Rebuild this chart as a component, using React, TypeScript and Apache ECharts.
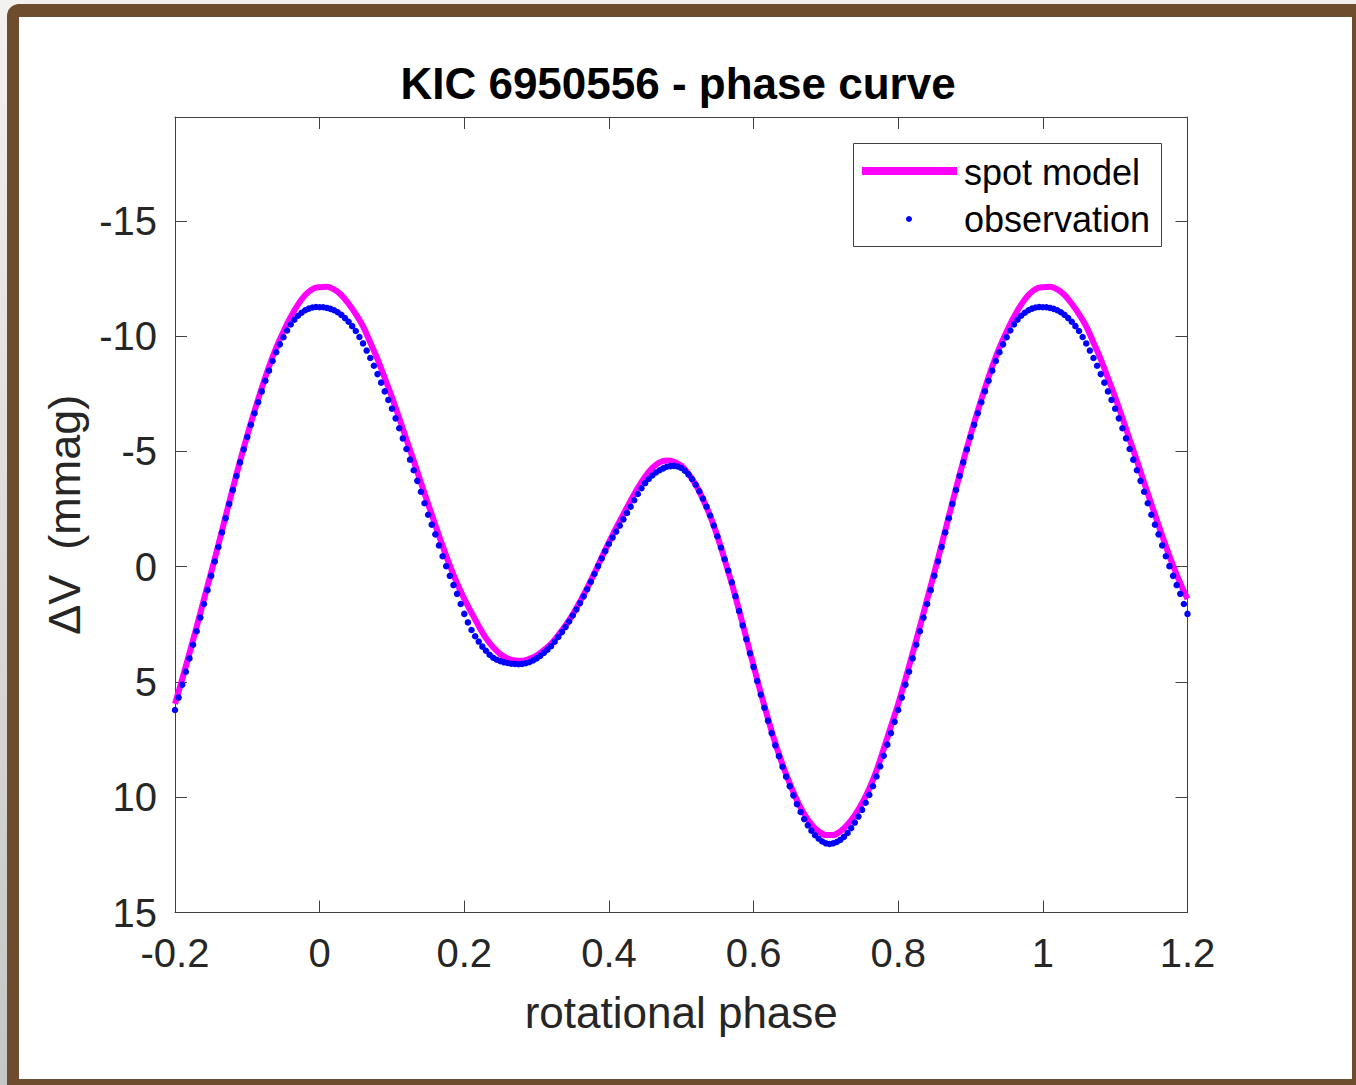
import React, { useEffect, useRef } from 'react';
import * as echarts from 'echarts';

const TITLE = 'KIC 6950556 - phase curve';
const X_NAME = 'rotational phase';
const Y_NAME = 'ΔV  (mmag)';
const X_TICKS = [-0.2, 0, 0.2, 0.4, 0.6, 0.8, 1, 1.2];
const X_TICK_LABELS = ['-0.2', '0', '0.2', '0.4', '0.6', '0.8', '1', '1.2'];
const Y_TICKS = [-15, -10, -5, 0, 5, 10, 15];
const Y_TICK_LABELS = ['-15', '-10', '-5', '0', '5', '10', '15'];
const X_RANGE = [-0.2, 1.2];
const Y_RANGE = [-19.5, 15];
const LEGEND_NAMES = ['spot model', 'observation'];

// spot model over one rotation: phase 0.00 .. 0.99, step 0.01 (mmag)
const MODEL_STEP = 0.01;
const MODEL = [
  -12.12, -12.14, -12.02, -11.78, -11.40, -10.95, -10.42, -9.72, -9.00, -8.18,
  -7.35, -6.45, -5.52, -4.60, -3.65, -2.72, -1.80, -0.90, -0.05, 0.72,
  1.40, 2.00, 2.58, 3.10, 3.50, 3.80, 3.98, 4.07, 4.08, 4.00,
  3.86, 3.62, 3.35, 2.97, 2.55, 2.07, 1.52, 0.92, 0.28, -0.40,
  -1.05, -1.68, -2.28, -2.86, -3.42, -3.90, -4.28, -4.52, -4.60, -4.55,
  -4.38, -4.02, -3.55, -2.92, -2.20, -1.32, -0.30, 0.75, 1.90, 3.10,
  4.30, 5.48, 6.60, 7.65, 8.58, 9.40, 10.13, 10.73, 11.18, 11.48,
  11.64, 11.64, 11.48, 11.18, 10.78, 10.26, 9.62, 8.84, 7.90, 6.92,
  5.95, 4.88, 3.75, 2.60, 1.42, 0.25, -0.95, -2.18, -3.40, -4.58,
  -5.70, -6.75, -7.75, -8.68, -9.50, -10.20, -10.83, -11.36, -11.78, -12.04,
];

// observed phase-folded light curve: phase 0.000 .. 0.995, step 0.005 (mmag)
const OBS_STEP = 0.005;
const OBS = [
  -11.25, -11.25, -11.22, -11.18, -11.12, -11.03, -10.92, -10.78, -10.62, -10.43,
  -10.22, -9.96, -9.68, -9.37, -9.05, -8.71, -8.35, -7.98, -7.60, -7.23,
  -6.85, -6.43, -6.00, -5.56, -5.10, -4.64, -4.18, -3.72, -3.25, -2.75,
  -2.25, -1.82, -1.40, -0.92, -0.45, -0.02, 0.40, 0.80, 1.18, 1.62,
  2.05, 2.42, 2.75, 3.02, 3.25, 3.47, 3.65, 3.82, 3.95, 4.04,
  4.10, 4.15, 4.18, 4.21, 4.22, 4.23, 4.22, 4.19, 4.14, 4.07,
  3.98, 3.87, 3.74, 3.60, 3.45, 3.26, 3.05, 2.84, 2.62, 2.38,
  2.12, 1.86, 1.58, 1.29, 0.98, 0.66, 0.32, -0.02, -0.35, -0.67,
  -0.98, -1.26, -1.52, -1.78, -2.05, -2.33, -2.60, -2.88, -3.15, -3.40,
  -3.62, -3.80, -3.95, -4.08, -4.18, -4.26, -4.33, -4.36, -4.37, -4.34,
  -4.28, -4.16, -4.00, -3.80, -3.55, -3.27, -2.95, -2.60, -2.22, -1.78,
  -1.32, -0.83, -0.32, 0.17, 0.68, 1.28, 1.92, 2.55, 3.15, 3.76,
  4.35, 4.96, 5.55, 6.12, 6.68, 7.22, 7.75, 8.22, 8.68, 9.11,
  9.52, 9.92, 10.30, 10.64, 10.95, 11.22, 11.45, 11.65, 11.80, 11.92,
  12.00, 12.03, 12.00, 11.94, 11.85, 11.72, 11.55, 11.34, 11.10, 10.84,
  10.55, 10.24, 9.90, 9.52, 9.10, 8.66, 8.20, 7.72, 7.22, 6.73,
  6.22, 5.68, 5.12, 4.56, 3.98, 3.39, 2.80, 2.21, 1.62, 1.02,
  0.40, -0.22, -0.85, -1.48, -2.10, -2.72, -3.32, -3.93, -4.52, -5.08,
  -5.62, -6.15, -6.65, -7.13, -7.60, -8.06, -8.50, -8.92, -9.30, -9.64,
  -9.95, -10.24, -10.50, -10.71, -10.88, -11.01, -11.12, -11.19, -11.24, -11.26,
];

const FONT = '"Liberation Sans", Arial, Helvetica, sans-serif';
const AXIS_COLOR = '#404040';
const TEXT_COLOR = '#262626';

// repeat the one-rotation table over the shown phase window, as the original plot does
function foldOver(values: number[], step: number, from: number, to: number) {
  const n = values.length;
  const i0 = Math.round(from / step);
  const i1 = Math.round(to / step);
  const out: number[][] = [];
  for (let i = i0; i <= i1; i++) {
    const k = ((i % n) + n) % n;
    out.push([+(i * step).toFixed(4), values[k]]);
  }
  return out;
}

function labelFor(ticks: number[], labels: string[]) {
  return (v: number) => {
    const k = ticks.findIndex((t) => Math.abs(t - v) < 1e-6);
    return k >= 0 ? labels[k] : '';
  };
}

export default function App() {
  const ref = useRef<HTMLDivElement>(null);

  useEffect(() => {
    if (!ref.current) return;
    const chart = echarts.init(ref.current, undefined, { renderer: 'svg' });

    const modelData = foldOver(MODEL, MODEL_STEP, X_RANGE[0], X_RANGE[1]);
    const obsData = foldOver(OBS, OBS_STEP, X_RANGE[0], X_RANGE[1]);

    const tickCommon = { show: true, inside: true, length: 12, lineStyle: { color: AXIS_COLOR, width: 1 } };
    const lineCommon = { show: true, onZero: false, lineStyle: { color: AXIS_COLOR, width: 1 } };

    chart.setOption({
      animation: false,
      backgroundColor: 'transparent',
      title: {
        text: TITLE,
        left: 'center',
        top: 56,
        textStyle: { fontFamily: FONT, fontSize: 44, fontWeight: 'bold', color: '#000' },
      },
      grid: { left: 175, right: 168.5, top: 117, bottom: 172.5, containLabel: false, outerBoundsMode: 'none' },
      xAxis: [
        {
          type: 'value',
          position: 'bottom',
          min: X_RANGE[0],
          max: X_RANGE[1],
          name: X_NAME,
          nameLocation: 'middle',
          nameGap: 78,
          nameMoveOverlap: false,
          nameTextStyle: { fontFamily: FONT, fontSize: 44, color: TEXT_COLOR },
          axisLine: lineCommon,
          axisTick: { ...tickCommon, customValues: X_TICKS },
          axisLabel: {
            customValues: X_TICKS,
            formatter: labelFor(X_TICKS, X_TICK_LABELS),
            margin: 20,
            fontFamily: FONT,
            fontSize: 40,
            color: TEXT_COLOR,
            showMinLabel: true,
            showMaxLabel: true,
            hideOverlap: false,
          },
          splitLine: { show: false },
        },
        {
          type: 'value',
          position: 'top',
          min: X_RANGE[0],
          max: X_RANGE[1],
          axisLine: lineCommon,
          axisTick: { ...tickCommon, customValues: X_TICKS },
          axisLabel: { show: false },
          splitLine: { show: false },
        },
      ],
      yAxis: [
        {
          type: 'value',
          position: 'left',
          inverse: true,
          min: Y_RANGE[0],
          max: Y_RANGE[1],
          name: Y_NAME,
          nameLocation: 'middle',
          nameGap: 88,
          nameMoveOverlap: false,
          nameTextStyle: { fontFamily: FONT, fontSize: 45, color: TEXT_COLOR },
          axisLine: lineCommon,
          axisTick: { ...tickCommon, customValues: Y_TICKS },
          axisLabel: {
            customValues: Y_TICKS,
            formatter: labelFor(Y_TICKS, Y_TICK_LABELS),
            margin: 18,
            fontFamily: FONT,
            fontSize: 40,
            color: TEXT_COLOR,
            showMinLabel: true,
            showMaxLabel: true,
            hideOverlap: false,
          },
          splitLine: { show: false },
        },
        {
          type: 'value',
          position: 'right',
          inverse: true,
          min: Y_RANGE[0],
          max: Y_RANGE[1],
          axisLine: lineCommon,
          axisTick: { ...tickCommon, customValues: Y_TICKS },
          axisLabel: { show: false },
          splitLine: { show: false },
        },
      ],
      series: [
        {
          name: LEGEND_NAMES[0],
          type: 'line',
          xAxisIndex: 0,
          yAxisIndex: 0,
          data: modelData,
          showSymbol: false,
          symbol: 'none',
          smooth: 0.35,
          lineStyle: { color: '#ff00ff', width: 6 },
          z: 2,
        },
        {
          name: LEGEND_NAMES[1],
          type: 'scatter',
          xAxisIndex: 0,
          yAxisIndex: 0,
          data: obsData,
          symbol: 'circle',
          symbolSize: 6.5,
          itemStyle: { color: '#0000ff', opacity: 1 },
          z: 3,
        },
      ],
      graphic: [
        {
          type: 'group',
          z: 100,
          children: [
            {
              type: 'rect',
              shape: { x: 853.5, y: 143.5, width: 308, height: 103 },
              style: { fill: '#ffffff', stroke: AXIS_COLOR, lineWidth: 1 },
            },
            {
              type: 'line',
              shape: { x1: 862, y1: 171, x2: 957, y2: 171 },
              style: { stroke: '#ff00ff', lineWidth: 8 },
            },
            {
              type: 'circle',
              shape: { cx: 909, cy: 219, r: 3 },
              style: { fill: '#0000ff' },
            },
            {
              type: 'text',
              x: 964,
              y: 172.5,
              style: {
                text: LEGEND_NAMES[0],
                font: `36px ${FONT}`,
                fill: '#000',
                textAlign: 'left',
                textVerticalAlign: 'middle',
              },
            },
            {
              type: 'text',
              x: 964,
              y: 219,
              style: {
                text: LEGEND_NAMES[1],
                font: `36px ${FONT}`,
                fill: '#000',
                textAlign: 'left',
                textVerticalAlign: 'middle',
              },
            },
          ],
        },
      ],
    });

    return () => chart.dispose();
  }, []);

  return (
    <div
      style={{
        position: 'fixed',
        left: 0,
        top: 0,
        width: 1356,
        height: 1085,
        overflow: 'hidden',
        background: 'linear-gradient(#f4f2ef, #c6c6c6)',
      }}
    >
      <div
        style={{
          position: 'absolute',
          left: 7,
          top: 4,
          width: 1370,
          height: 1100,
          background: '#6e4d2e',
          borderTopLeftRadius: 12,
        }}
      />
      <div
        style={{
          position: 'absolute',
          left: 19,
          top: 17,
          width: 1333,
          height: 1062,
          background: '#ffffff',
        }}
      />
      <div ref={ref} style={{ position: 'absolute', left: 0, top: 0, width: 1356, height: 1085 }} />
    </div>
  );
}
